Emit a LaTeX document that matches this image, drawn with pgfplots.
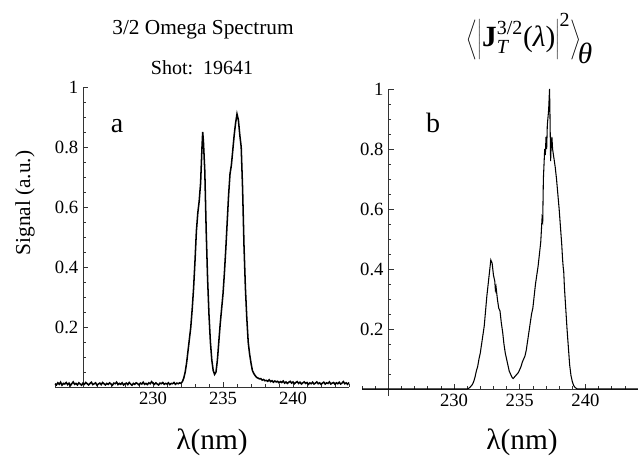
\documentclass[border=0pt]{standalone}
\usepackage{pgfplots}
\usepackage{pgfplotstable}
\pgfplotsset{compat=1.18}
\usepackage{fontspec}
\setmainfont{Liberation Serif}

% measured spectrum (panel a)
\pgfplotstableread{
lam sig
223.0 .011
223.1 .007
223.2 .014
223.3 .009
223.4 .016
223.5 .006
223.6 .012
223.7 .010
223.8 .015
223.9 .008
224.0 .013
224.1 .005
224.2 .011
224.3 .017
224.4 .009
224.5 .012
224.6 .007
224.7 .014
224.8 .010
224.9 .006
225.0 .013
225.1 .009
225.2 .015
225.3 .011
225.4 .007
225.5 .012
225.6 .016
225.7 .008
225.8 .011
225.9 .014
226.0 .006
226.1 .010
226.2 .013
226.3 .008
226.4 .015
226.5 .011
226.6 .007
226.7 .012
226.8 .009
226.9 .014
227.0 .010
227.1 .006
227.2 .013
227.3 .011
227.4 .016
227.5 .008
227.6 .012
227.7 .009
227.8 .014
227.9 .007
228.0 .011
228.1 .013
228.2 .008
228.3 .015
228.4 .010
228.5 .006
228.6 .012
228.7 .009
228.8 .014
228.9 .011
229.0 .007
229.1 .013
229.2 .010
229.3 .016
229.4 .009
229.5 .012
229.6 .008
229.7 .014
229.8 .011
229.9 .018
230.0 .012
230.1 .009
230.2 .014
230.3 .010
230.4 .007
230.5 .013
230.6 .011
230.7 .015
230.8 .009
230.9 .012
231.0 .010
231.1 .014
231.2 .008
231.3 .012
231.4 .011
231.5 .015
231.6 .009
231.7 .013
231.8 .011
231.9 .014
232.0 .012
232.1 .018
232.2 .030
232.3 .050
232.4 .080
232.5 .120
232.6 .160
232.7 .200
232.8 .260
232.9 .330
233.0 .420
233.1 .520
233.2 .580
233.3 .620
233.4 .680
233.5 .800
233.55 .850
233.6 .820
233.7 .720
233.8 .520
233.9 .360
234.0 .240
234.1 .150
234.2 .090
234.3 .055
234.4 .042
234.5 .050
234.6 .090
234.7 .150
234.8 .210
234.9 .260
235.0 .310
235.1 .380
235.2 .460
235.3 .550
235.4 .640
235.5 .710
235.6 .740
235.7 .790
235.8 .840
235.9 .880
236.0 .910
236.1 .890
236.2 .840
236.3 .800
236.4 .660
236.5 .470
236.6 .330
236.7 .230
236.8 .150
236.9 .110
237.0 .080
237.1 .055
237.2 .045
237.3 .038
237.4 .032
237.5 .030
237.6 .027
237.7 .028
237.8 .023
237.9 .025
238.0 .021
238.1 .022
238.2 .019
238.3 .024
238.4 .018
238.5 .021
238.6 .016
238.7 .020
238.8 .017
238.9 .019
239.0 .014
239.1 .018
239.2 .015
239.3 .020
239.4 .013
239.5 .017
239.6 .012
239.7 .016
239.8 .019
239.9 .013
240.0 .017
240.1 .011
240.2 .015
240.3 .018
240.4 .012
240.5 .016
240.6 .010
240.7 .014
240.8 .017
240.9 .012
241.0 .015
241.1 .009
241.2 .014
241.3 .011
241.4 .016
241.5 .010
241.6 .013
241.7 .017
241.8 .011
241.9 .014
242.0 .009
242.1 .013
242.2 .016
242.3 .010
242.4 .014
242.5 .012
242.6 .017
242.7 .010
242.8 .013
242.9 .015
243.0 .009
243.1 .014
243.2 .011
243.3 .016
243.4 .010
243.5 .013
243.6 .018
243.7 .011
243.8 .014
243.9 .009
244.0 .015
}\measured

% computed spectrum (panel b)
\pgfplotstableread{
lam sig
223.0 0
231.0 0
231.1 .002
231.2 .005
231.3 .010
231.4 .015
231.5 .025
231.6 .040
231.7 .060
231.8 .075
231.9 .100
232.0 .120
232.1 .150
232.2 .180
232.3 .210
232.4 .260
232.5 .310
232.6 .350
232.7 .390
232.8 .430
232.9 .420
233.0 .380
233.1 .360
233.15 .330
233.2 .340
233.3 .300
233.4 .270
233.5 .260
233.6 .220
233.7 .190
233.8 .150
233.9 .120
234.0 .100
234.1 .080
234.2 .060
234.3 .050
234.4 .040
234.5 .035
234.6 .040
234.7 .045
234.8 .050
234.9 .055
235.0 .065
235.1 .075
235.2 .090
235.3 .100
235.4 .110
235.5 .130
235.6 .160
235.7 .190
235.8 .220
235.9 .250
236.0 .270
236.1 .310
236.2 .350
236.3 .380
236.4 .410
236.5 .450
236.6 .490
236.7 .570
236.75 .560
236.8 .700
236.9 .800
236.95 .780
237.0 .840
237.05 .800
237.1 .880
237.2 .930
237.27 1.00
237.3 .920
237.35 .760
237.4 .820
237.45 .840
237.5 .800
237.6 .770
237.7 .740
237.8 .700
237.9 .650
238.0 .600
238.1 .540
238.2 .480
238.25 .440
238.3 .410
238.35 .390
238.4 .340
238.5 .270
238.6 .200
238.7 .140
238.8 .080
238.9 .045
239.0 .025
239.1 .012
239.2 .006
239.3 .002
239.4 0
244.0 0
}\computed

\pgfplotsset{
  mma/.style={
    scale only axis, anchor=south west,
    xmin=223, xmax=244, ymax=1,
    axis x line=bottom, axis y line=left,
    axis line style={-, line width=0.5pt, black!80},
    xtick={230,235,240}, minor xtick={223,...,244},
    ytick={0.2,0.4,0.6,0.8,1},
    minor ytick={0.05,0.1,0.15,0.25,0.3,0.35,0.45,0.5,0.55,0.65,0.7,0.75,0.85,0.9,0.95},
    tick align=inside, major tick length=4pt, minor tick length=2pt,
    tick style={line width=0.4pt, black!80},
    /pgf/number format/assume math mode=true,
    ticklabel style={font=\fontsize{14}{14}\selectfont},
    clip=false,
  },
}

\newcommand{\sz}[1]{\fontsize{#1}{#1}\selectfont}

\begin{document}
\begin{tikzpicture}
\path[use as bounding box] (0,0) rectangle (478.5pt,-343.5pt);

\begin{axis}[mma,
  at={(41.25pt,-290.25pt)}, width=220.5pt, height=225pt,
  ymin=0, axis y line shift=-21pt]
\addplot[black, line width=1.15pt] table[x=lam, y=sig] {\measured};
\end{axis}

\begin{axis}[mma,
  at={(271.5pt,-297pt)}, width=207pt, height=230.25pt,
  ymin=-0.0233, axis y line shift=-19.7pt, axis x line shift=-5.25pt]
\addplot[black, line width=0.8pt] table[x=lam, y=sig] {\computed};
\end{axis}

\node[font=\sz{16}] at (152.25pt,-22.5pt) {3/2 Omega Spectrum};
\node[font=\sz{15}] at (151.5pt,-51pt) {Shot:\ \ 19641};
\node[font=\sz{21}, anchor=base] at (87.75pt,-99pt) {a};
\node[font=\sz{21}, anchor=base] at (324.75pt,-99pt) {b};
\node[font=\sz{16}, rotate=90] at (18.75pt,-152.25pt) {Signal (a.u.)};
\node[font=\sz{22}] at (159pt,-331.5pt) {λ(nm)};
\node[font=\sz{22}] at (391.5pt,-331.5pt) {λ(nm)};
\node[font=\sz{21}, inner sep=0pt] at (397.5pt,-29pt)
  {$\left\langle\vrule height 24pt depth 12pt width 0pt
   \left|\vrule height 19pt depth 7pt width 0pt \mbox{\sz{22}\bfseries J}^{\mbox{\sz{15}3/2}}_{\mbox{\sz{15}\itshape T}}
   \mbox{\sz{22}(\itshape λ\/\upshape)} \right|^{\mbox{\sz{15}2}}
   \right\rangle_{\!\mbox{\sz{22}\itshape θ}}$};
\end{tikzpicture}
\end{document}
